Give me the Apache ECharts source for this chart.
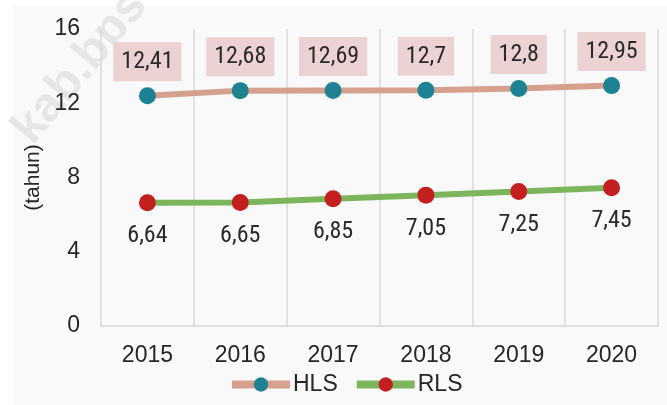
<!DOCTYPE html>
<html>
<head>
<meta charset="utf-8">
<script src="https://cdn.jsdelivr.net/npm/echarts@6/dist/echarts.min.js"></script>
<style>
  html, body { margin: 0; padding: 0; background: #ffffff; }
  #chart { width: 667px; height: 405px; }
</style>
</head>
<body>
<div id="chart"></div>
<script>
const years = ['2015', '2016', '2017', '2018', '2019', '2020']
const hls = [12.41, 12.68, 12.69, 12.7, 12.8, 12.95]
const rls = [6.64, 6.65, 6.85, 7.05, 7.25, 7.45]
const hls_labels = ['12,41', '12,68', '12,69', '12,7', '12,8', '12,95']
const rls_labels = ['6,64', '6,65', '6,85', '7,05', '7,25', '7,45']

const chart = echarts.init(document.getElementById('chart'))

let option = {
    animation: false,
    graphic: [
        {
            type: 'rect',
            z: -10,
            shape: {x: 13, y: 5, width: 654, height: 400},
            style: {fill: '#f9f9f9'}
        },
        {
            type: 'text',
            z: -5,
            x: 4, y: 122,
            rotation: Math.PI * 0.28,
            style: {text: 'kab.bps', fill: '#e6e6e6', font: 'bold 48px "Liberation Sans"'}
        }
    ],
    grid: {left: 101, right: 9, top: 29, bottom: 79},
    legend: {
        bottom: 4,
        left: 223,
        itemWidth: 58,
        itemHeight: 18,
        itemGap: 15,
        lineStyle: {width: 8},
        textStyle: {fontSize: 23, color: '#262626', fontFamily: 'Liberation Sans', padding: [0, 0, 0, -2]},
        data: ['HLS', 'RLS']
    },
    xAxis: {
        type: 'category',
        data: years,
        boundaryGap: true,
        axisLine: {lineStyle: {color: '#d6d6d6', width: 1.5}},
        axisTick: {show: false},
        splitLine: {show: true, lineStyle: {color: '#d9d9d9', width: 1.5}},
        axisLabel: {fontSize: 23, color: '#262626', fontFamily: 'Liberation Sans', margin: 18}
    },
    yAxis: {
        type: 'value',
        min: 0,
        max: 16,
        interval: 4,
        name: '(tahun)',
        nameLocation: 'middle',
        nameGap: 56,
        nameRotate: 90,
        nameTextStyle: {fontSize: 21, color: '#262626', fontFamily: 'Liberation Sans'},
        axisLine: {show: false},
        axisTick: {show: false},
        splitLine: {show: false},
        axisLabel: {fontSize: 23, color: '#262626', fontFamily: 'Liberation Sans', margin: 21}
    },
    series: [
        {
            name: 'HLS',
            type: 'line',
            data: hls,
            symbol: 'circle',
            symbolSize: 17,
            lineStyle: {color: '#d5a08d', width: 6},
            itemStyle: {color: '#1e8292'},
            label: {
                show: true,
                position: 'top',
                distance: 6,
                formatter: p => hls_labels[p.dataIndex],
                fontFamily: 'Roboto Condensed',
                fontSize: 24,
                color: '#2a2a2a',
                backgroundColor: '#ecd2d3',
                padding: [8, 8, 7, 8]
            }
        },
        {
            name: 'RLS',
            type: 'line',
            data: rls,
            symbol: 'circle',
            symbolSize: 17,
            lineStyle: {color: '#7cb55c', width: 6},
            itemStyle: {color: '#c41f1f'},
            label: {
                show: true,
                position: 'bottom',
                distance: 13,
                formatter: p => rls_labels[p.dataIndex],
                fontFamily: 'Roboto Condensed',
                fontSize: 24,
                color: '#2a2a2a'
            }
        }
    ]
}

chart.setOption(option)
</script>
</body>
</html>
